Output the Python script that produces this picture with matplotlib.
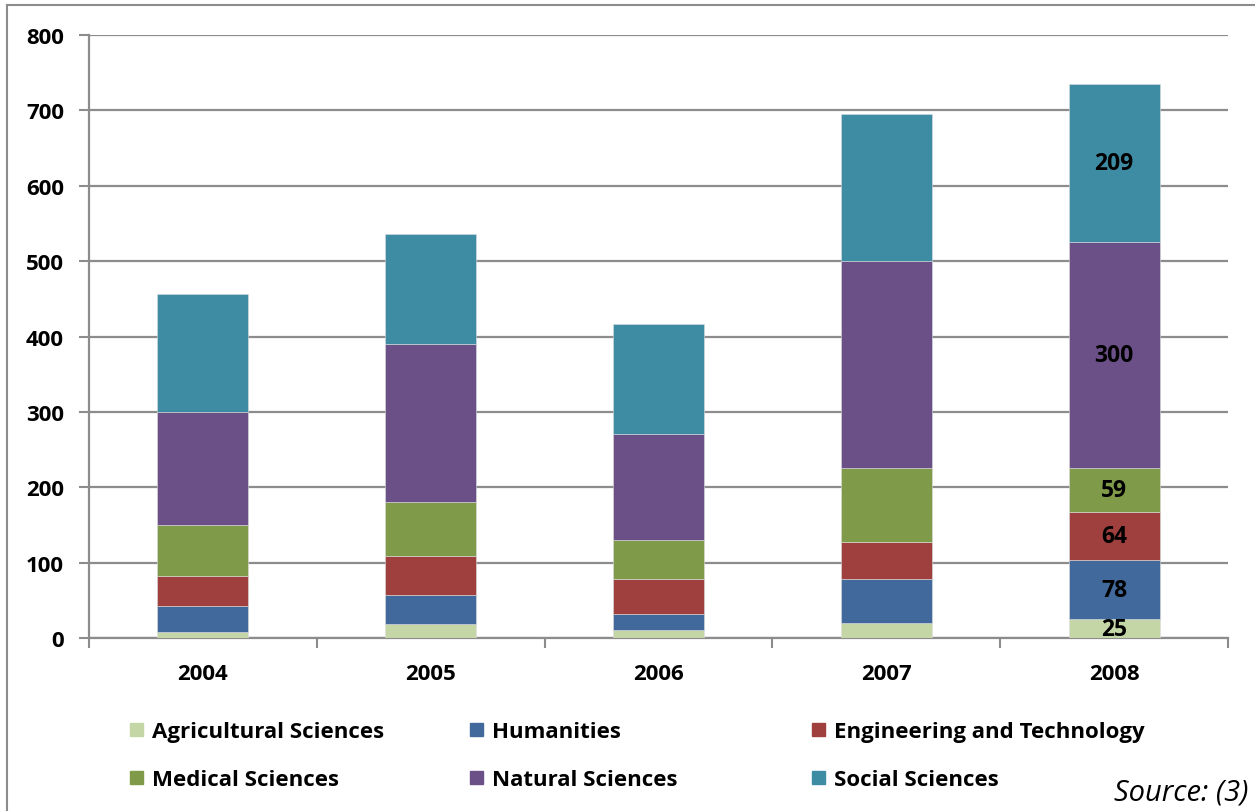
import matplotlib
matplotlib.use("Agg")
import matplotlib.pyplot as plt
import numpy as np
from matplotlib.patches import Rectangle
from matplotlib.lines import Line2D

YEARS = ["2004", "2005", "2006", "2007", "2008"]
SERIES = ["Agricultural Sciences", "Humanities", "Engineering and Technology",
          "Medical Sciences", "Natural Sciences", "Social Sciences"]
AGRICULTURAL = [8, 18, 10, 20, 25]
HUMANITIES = [34, 39, 22, 58, 78]
ENGINEERING = [40, 52, 46, 49, 64]
MEDICAL = [68, 71, 52, 98, 59]
NATURAL = [150, 210, 140, 275, 300]
SOCIAL = [156, 146, 146, 195, 209]
COLORS = ["#C4D6A6", "#41699B", "#9F403E", "#7F9A48", "#6A5087", "#3D8CA4"]
LABELLED_YEAR = "2008"

plt.rcParams['font.family'] = ['Open Sans', 'DejaVu Sans']
GRAY = "#8c8c8c"
FS = 16

fig = plt.figure(figsize=(12.55, 8.12), dpi=100)
ax = fig.add_axes([89 / 1255, 1 - 639 / 812, (1228 - 89) / 1255, (639 - 36) / 812])

x = np.arange(len(YEARS))
values = [AGRICULTURAL, HUMANITIES, ENGINEERING, MEDICAL, NATURAL, SOCIAL]
bottom = np.zeros(len(YEARS))
label_idx = YEARS.index(LABELLED_YEAR)
for name, vals, color in zip(SERIES, values, COLORS):
    vals = np.array(vals, dtype=float)
    ax.bar(x, vals, width=0.4, bottom=bottom, color=color, zorder=3,
           edgecolor="#dddddd", linewidth=0.4)
    ax.text(x[label_idx], bottom[label_idx] + vals[label_idx] / 2,
            str(int(vals[label_idx])), ha="center", va="center",
            fontsize=16.5, fontweight="bold", color="black", zorder=4)
    bottom += vals

ax.set_xlim(-0.5, len(YEARS) - 0.5)
ax.set_ylim(0, 800)
ax.set_yticks(range(0, 801, 100))
ax.set_xticks(x)
ax.set_xticklabels(YEARS)
ax.set_xticks(np.arange(-0.5, len(YEARS)), minor=True)
ax.tick_params(axis="x", which="major", length=0, pad=18)
ax.tick_params(axis="x", which="minor", length=7, width=1.5, color=GRAY)
ax.tick_params(axis="y", length=7, width=1.5, color=GRAY, pad=11)
for lab in ax.get_xticklabels() + ax.get_yticklabels():
    lab.set_fontsize(FS)
    lab.set_fontweight("bold")
ax.grid(axis="y", color=GRAY, linewidth=1.6, zorder=0)
for side in ["top", "right"]:
    ax.spines[side].set_visible(False)
for side in ["left", "bottom"]:
    ax.spines[side].set_color(GRAY)
    ax.spines[side].set_linewidth(1.6)

# legend drawn by hand to match the column layout
col_x = [130, 470, 812]
row_y = [733, 781]
for i, (name, color) in enumerate(zip(SERIES, COLORS)):
    cx = col_x[i % 3]
    cy = row_y[i // 3]
    fig.add_artist(Rectangle((cx / 1255, 1 - (cy + 4) / 812), 13 / 1255, 13 / 812,
                             transform=fig.transFigure, color=color))
    fig.text((cx + 22) / 1255, 1 - cy / 812, name, fontsize=FS, fontweight="bold",
             va="center", ha="left")

fig.text(1248 / 1255, 1 - 793 / 812, "Source: (3)", fontsize=21, style="italic",
         ha="right", va="center")

# outer frame (left and top edges visible)
fig.add_artist(Line2D([7 / 1255, 7 / 1255], [0, 1 - 6 / 812], transform=fig.transFigure,
                      color=GRAY, linewidth=1.5))
fig.add_artist(Line2D([7 / 1255, 1], [1 - 6 / 812, 1 - 6 / 812], transform=fig.transFigure,
                      color=GRAY, linewidth=1.5))

fig.savefig("out.png", dpi=100)
